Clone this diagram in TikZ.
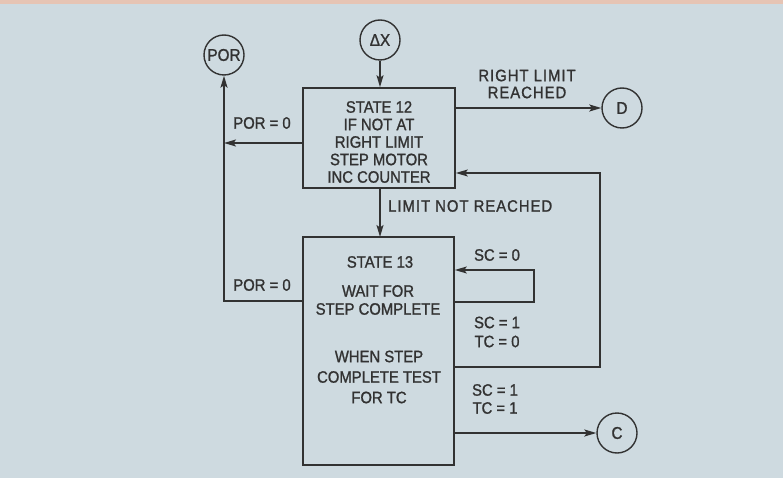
\documentclass[tikz,border=0pt]{standalone}
\usepackage{fontspec}
\setmainfont{Liberation Sans}[FakeStretch=0.9,FakeBold=1.2]
\newfontfamily\widefont{Liberation Sans}[FakeStretch=0.9,FakeBold=1.2,LetterSpace=6]
\usetikzlibrary{arrows.meta}
\definecolor{bg}{RGB}{206,218,224}
\definecolor{band}{RGB}{230,196,180}
\definecolor{ink}{RGB}{50,50,50}
\begin{document}
\begin{tikzpicture}[x=1pt,y=-1pt,
  line/.style={draw=ink, line width=1.6pt},
  arr/.style={line, -{Stealth[length=12pt,width=7pt,inset=2.5pt]}},
  statebox/.style={draw=ink, line width=1.6pt, rectangle, inner sep=0pt},
  conn/.style={circle, draw=ink, line width=1.4pt, minimum size=40pt, inner sep=0pt, text=ink, font=\fontsize{17}{17}\selectfont},
  lbl/.style={text=ink, font=\fontsize{16.5}{17}\selectfont, align=center, inner sep=0pt},
  boxtxt/.style={text=ink, font=\fontsize{16.5}{17.5}\selectfont, align=center, inner sep=0pt}]
\fill[bg] (0,0) rectangle (783,478);
\fill[band] (0,0) rectangle (783,4);
\useasboundingbox (0,0) rectangle (783,478);

% connectors (circles)
\node[conn] (dx) at (380,40) {ΔX};
\node[conn] (por) at (224,55) {POR};
\node[conn] (d) at (622,108) {D};
\node[conn] (c) at (617,433) {C};

% state boxes
\node[statebox, minimum width=152pt, minimum height=100pt] (b12) at (379,138) {};
\node[boxtxt] (t12) at (379,142) {STATE 12\\IF NOT AT\\RIGHT LIMIT\\STEP MOTOR\\INC COUNTER};
\node[statebox, minimum width=151pt, minimum height=228pt] (b13) at (378.5,351) {};
\node[boxtxt] (t13a) at (380,262) {STATE 13};
\node[boxtxt, font=\fontsize{16.5}{18}\selectfont] (t13b) at (378,300) {WAIT FOR\\STEP COMPLETE};
\node[boxtxt, font=\fontsize{16.5}{20.5}\selectfont] (t13c) at (379,377) {WHEN STEP\\COMPLETE TEST\\FOR TC};

% junction coordinates
\coordinate (j1) at (224,143);
\coordinate (j2) at (224,301);
\coordinate (l1) at (534,302);
\coordinate (l2) at (534,270);
\coordinate (r1) at (600,367);
\coordinate (r2) at (600,173);

% connectors
\draw[arr] (dx.south) -- (dx.south |- b12.north);
\draw[arr] (b12.east |- d) -- (d.west);
\draw[arr] (b12.west |- j1) -- (j1);
\draw[arr] (b13.west |- j2) -- (j2) -- (por.south);
\draw[arr] (380,188) -- (380,237);
\draw[arr] (b13.east |- l1) -- (l1) -- (l2) -- (b13.east |- l2);
\draw[arr] (b13.east |- r1) -- (r1) -- (r2) -- (b12.east |- r2);
\draw[arr] (b13.east |- c) -- (c.west);

% labels
\node[lbl, font=\widefont\fontsize{16.5}{17}\selectfont] (lrl) at (527,84) {RIGHT LIMIT\\REACHED};
\node[lbl] (lpor1) at (262,123) {POR = 0};
\node[lbl] (lpor2) at (262,285) {POR = 0};
\node[lbl, anchor=west, font=\widefont\fontsize{16.5}{17}\selectfont] (lnr) at (388,206) {LIMIT NOT REACHED};
\node[lbl] (lsc0) at (497,255) {SC = 0};
\node[lbl, font=\fontsize{16.5}{19}\selectfont] (lsc1) at (497,332) {SC = 1\\TC = 0};
\node[lbl, font=\fontsize{16.5}{18}\selectfont] (lsc2) at (495,399) {SC = 1\\TC = 1};
\end{tikzpicture}
\end{document}
